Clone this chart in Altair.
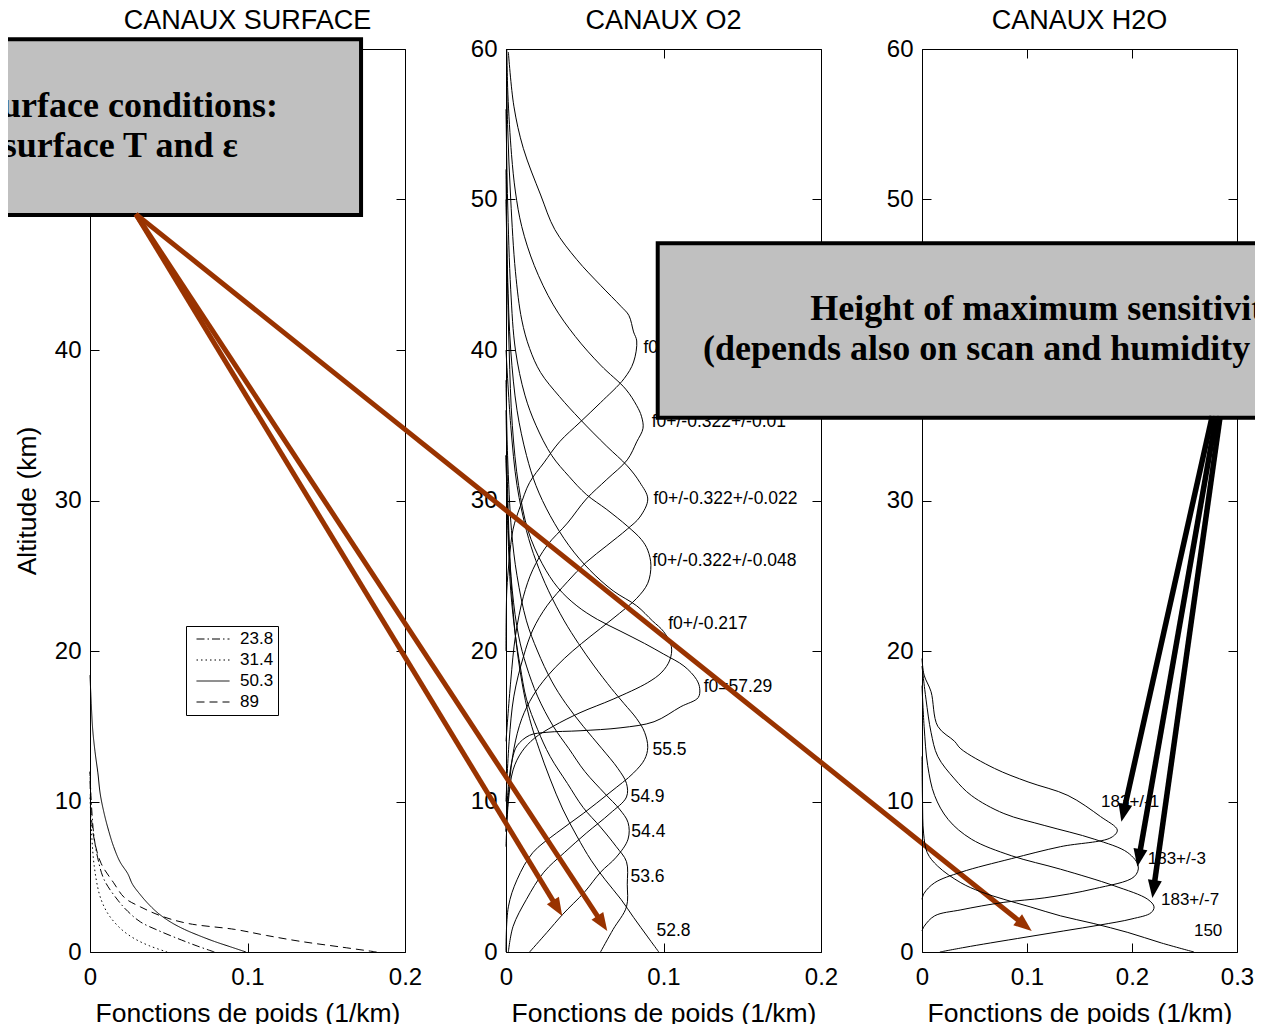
import math
import altair as alt
import pandas as pd

# ---------------- Panel 1 : CANAUX SURFACE (weighting functions, 1/km) ----------------
SURF_CHANNELS = ["23.8", "31.4", "50.3", "89"]
ALT_S238 = [0, 0.4, 0.8, 1.4, 2.0, 2.7, 3.4, 4.8, 6.3, 7.9, 10.4, 12.0]
WF_S238 = [0.079, 0.068, 0.058, 0.044, 0.032, 0.024, 0.018, 0.009, 0.0048, 0.0023, 0.0006, 0.0]
ALT_S314 = [0, 0.4, 0.9, 1.5, 2.3, 3.0, 3.9, 5.7, 7.9, 10.4]
WF_S314 = [0.049, 0.038, 0.028, 0.020, 0.013, 0.009, 0.0058, 0.0027, 0.001, 0.0]
ALT_S503 = [0, 0.35, 0.7, 1.1, 1.5, 2.0, 2.6, 3.2, 3.8, 4.5, 5.2, 6.0, 7.0, 8.0, 9.2, 10.5, 11.9, 13.3, 14.8, 16.5, 18.4]
WF_S503 = [0.099, 0.089, 0.079, 0.069, 0.060, 0.051, 0.043, 0.037, 0.032, 0.027, 0.024, 0.019, 0.015, 0.012, 0.009, 0.0065, 0.005, 0.0032, 0.0017, 0.0008, 0.0]
ALT_S89 = [0, 0.35, 0.7, 1.1, 1.5, 1.9, 2.4, 3.0, 3.6, 4.6, 5.9, 7.4, 9.2, 12.0]
WF_S89 = [0.182, 0.158, 0.134, 0.112, 0.092, 0.062, 0.045, 0.032, 0.022, 0.015, 0.007, 0.0028, 0.0007, 0.0]

# ---------------- Panel 2 : CANAUX O2 ----------------
ALT_O528 = [0, 1.0, 2.3, 3.5, 4.8, 6.1, 7.7, 9.5, 11.5, 13.5, 15.5, 18, 21, 25, 30, 36]
WF_O528 = [0.097, 0.090, 0.081, 0.073, 0.063, 0.054, 0.045, 0.036, 0.028, 0.021, 0.015, 0.010, 0.006, 0.003, 0.0012, 0.0]
ALT_O536 = [0, 1.5, 3.0, 4.5, 6.0, 7.0, 8.3, 9.6, 11.2, 13.0, 14.8, 16.8, 19.0, 21, 24, 28, 33]
WF_O536 = [0.060, 0.068, 0.0765, 0.077, 0.0765, 0.070, 0.060, 0.049, 0.039, 0.028, 0.020, 0.013, 0.009, 0.006, 0.003, 0.0012, 0.0]
ALT_O544 = [0, 1.3, 2.5, 4.0, 5.3, 6.3, 7.5, 8.6, 9.5, 10.5, 12.0, 13.5, 15.0, 17.0, 19.0, 21.0, 24.0, 28.0, 33.0]
WF_O544 = [0.015, 0.026, 0.036, 0.050, 0.060, 0.070, 0.0775, 0.0775, 0.072, 0.063, 0.050, 0.040, 0.030, 0.020, 0.013, 0.008, 0.004, 0.0015, 0.0]
ALT_O549 = [0, 1.7, 3.5, 5.3, 6.6, 7.9, 9.2, 10.3, 11.2, 12.2, 13.5, 15.0, 16.5, 18.0, 20.0, 22.0, 25.0, 28.0, 33.0, 38]
WF_O549 = [0.0015, 0.0045, 0.013, 0.024, 0.037, 0.051, 0.066, 0.0765, 0.0765, 0.071, 0.061, 0.049, 0.038, 0.029, 0.020, 0.013, 0.007, 0.0035, 0.001, 0.0]
ALT_O555 = [0, 3.0, 4.8, 6.6, 7.9, 9.2, 10.6, 11.9, 12.8, 13.6, 14.6, 15.5, 16.5, 17.5, 19.0, 20.5, 22.0, 24.0, 26.0, 28.0, 31.0, 35.0, 40.0]
WF_O555 = [0.0, 0.0015, 0.007, 0.017, 0.032, 0.049, 0.066, 0.081, 0.088, 0.090, 0.088, 0.083, 0.075, 0.067, 0.056, 0.046, 0.037, 0.027, 0.019, 0.013, 0.007, 0.003, 0.0]
ALT_F0 = [8, 11, 12.8, 13.7, 14.4, 14.6, 14.7, 14.9, 15.3, 16.3, 16.9, 17.5, 18.1, 19.0, 19.8, 20.5, 21.3, 22.1, 23.0, 24.2, 25.8, 28, 31, 35, 40, 46, 52]
WF_F0 = [0.0, 0.0015, 0.004, 0.007, 0.015, 0.026, 0.047, 0.073, 0.094, 0.111, 0.122, 0.123, 0.121, 0.113, 0.100, 0.088, 0.073, 0.058, 0.045, 0.033, 0.023, 0.014, 0.008, 0.004, 0.002, 0.0007, 0.0]
ALT_F217 = [7, 10, 12.1, 13.3, 14.2, 15.0, 15.9, 16.8, 17.9, 18.6, 19.4, 20.3, 21.3, 22, 23, 24, 25.4, 27, 29, 31, 33, 36, 40, 45, 50]
WF_F217 = [0.0, 0.0015, 0.0045, 0.010, 0.018, 0.030, 0.047, 0.068, 0.090, 0.099, 0.104, 0.105, 0.100, 0.093, 0.083, 0.068, 0.053, 0.040, 0.028, 0.019, 0.013, 0.007, 0.003, 0.001, 0.0]
ALT_F048 = [8, 11, 13.5, 15.5, 17.0, 18.3, 19.5, 20.5, 21.5, 22.5, 23.5, 24.5, 25.7, 26.7, 27.4, 28.3, 29.4, 30.4, 31.6, 33.0, 35.0, 37.0, 40.0, 44.0, 50.0, 56]
WF_F048 = [0.0, 0.002, 0.005, 0.010, 0.017, 0.026, 0.037, 0.048, 0.060, 0.072, 0.083, 0.090, 0.092, 0.090, 0.086, 0.077, 0.064, 0.051, 0.040, 0.029, 0.019, 0.012, 0.006, 0.003, 0.001, 0.0]
ALT_F022 = [10, 14, 17, 19.6, 21.4, 23.0, 24.6, 25.9, 27.0, 28.1, 28.9, 30.1, 31.2, 32.3, 33.6, 35.4, 36.9, 38.5, 40.1, 42, 45.2, 50, 55, 60]
WF_F022 = [0.0, 0.002, 0.005, 0.011, 0.017, 0.026, 0.039, 0.051, 0.064, 0.077, 0.085, 0.090, 0.085, 0.077, 0.064, 0.047, 0.034, 0.022, 0.015, 0.010, 0.006, 0.003, 0.001, 0.0003]
ALT_F010 = [14, 18, 21, 23.6, 25.4, 27.0, 28.5, 30.1, 31.4, 32.7, 33.9, 34.8, 35.6, 36.3, 37.4, 39.0, 40.9, 43.0, 45.6, 48.2, 50.5, 53, 57, 60]
WF_F010 = [0.0, 0.003, 0.006, 0.011, 0.017, 0.026, 0.039, 0.051, 0.064, 0.077, 0.083, 0.087, 0.086, 0.083, 0.076, 0.060, 0.044, 0.030, 0.018, 0.010, 0.006, 0.0035, 0.0012, 0.0005]
ALT_F0045 = [20, 24, 26, 28.1, 29.6, 31.2, 32.5, 33.9, 35.2, 36.5, 38.1, 39.2, 40.6, 41.2, 42.3, 42.9, 44.3, 46.0, 48.0, 50.3, 53.4, 56.2, 59.8]
WF_F0045 = [0.0, 0.0005, 0.002, 0.0045, 0.009, 0.015, 0.024, 0.034, 0.047, 0.060, 0.075, 0.081, 0.083, 0.081, 0.078, 0.073, 0.060, 0.045, 0.031, 0.022, 0.011, 0.005, 0.0015]

O2_LABEL_TEXT = ["f0+/-0.322+/-0.0045", "f0+/-0.322+/-0.01", "f0+/-0.322+/-0.022",
                 "f0+/-0.322+/-0.048", "f0+/-0.217", "f0=57.29", "55.5", "54.9",
                 "54.4", "53.6", "52.8"]
O2_LABEL_X = [0.0873, 0.0925, 0.0936, 0.093, 0.103, 0.1255, 0.093, 0.079, 0.0796, 0.079, 0.0955]
O2_LABEL_ALT = [40.1, 35.2, 30.1, 25.95, 21.8, 17.6, 13.4, 10.3, 8.0, 5.0, 1.4]

# ---------------- Panel 3 : CANAUX H2O ----------------
ALT_H1 = [3.5, 3.9, 4.6, 5.3, 6.2, 7.0, 7.6, 8.1, 9.0, 10.4, 11.3, 12.2, 13.5, 14.0, 15.0, 17.3, 18.4, 19.5]
WF_H1 = [0.0, 0.002, 0.012, 0.037, 0.085, 0.132, 0.180, 0.186, 0.170, 0.139, 0.101, 0.069, 0.037, 0.031, 0.015, 0.0086, 0.002, 0.0]
ALT_H3 = [1.4, 1.7, 2.4, 2.8, 3.3, 3.6, 4.2, 5.0, 5.7, 6.6, 7.5, 8.4, 9.2, 10.4, 11.5, 13.0, 14.6, 16.8, 19.0]
WF_H3 = [0.0, 0.002, 0.012, 0.037, 0.078, 0.117, 0.164, 0.202, 0.206, 0.196, 0.164, 0.117, 0.078, 0.047, 0.031, 0.015, 0.0086, 0.0038, 0.0]
ALT_H7 = [0, 0.3, 0.6, 1.0, 1.4, 1.8, 2.2, 2.6, 3.0, 3.5, 4.4, 5.5, 6.4, 7.5, 8.8, 10.4, 12.4, 15.0, 17.7]
WF_H7 = [0.017, 0.040, 0.065, 0.100, 0.135, 0.170, 0.200, 0.218, 0.221, 0.215, 0.183, 0.132, 0.085, 0.047, 0.025, 0.012, 0.0054, 0.002, 0.0]
ALT_H150 = [0, 0.6, 1.3, 1.9, 2.4, 3.0, 3.5, 4.0, 4.6, 5.7, 6.6, 7.9, 10, 13]
WF_H150 = [0.259, 0.228, 0.196, 0.163, 0.132, 0.103, 0.078, 0.056, 0.037, 0.015, 0.005, 0.0015, 0.0005, 0.0]

H2O_LABEL_TEXT = ["183+/-1", "183+/-3", "183+/-7", "150"]
H2O_LABEL_X = [0.1705, 0.215, 0.2276, 0.259]
H2O_LABEL_ALT = [10.0, 6.2, 3.45, 1.4]

# ---------------- annotations (data coordinates of the panel they sit in) ----------------
BOX1_X = [-0.09, 0.1721]          # panel 1
BOX1_ALT = [48.97, 60.65]
BOX1_LINES = ["Surface conditions:", "surface T and \u03b5"]
BOX1_LINE_X = [-0.0692, -0.0554]
BOX1_LINE_ALT = [55.5, 52.8]

BOX2_X = [-0.2517, 0.474]         # panel 3
BOX2_ALT = [35.5, 47.1]
BOX2_LINES = ["Height of maximum sensitivity", "(depends also on scan and humidity profile)"]
BOX2_LINE_X = [-0.1064, -0.2085]
BOX2_LINE_ALT = [42.02, 39.35]

BROWN_START_X = [-0.2350, -0.2350, -0.2350]   # panel 2
BROWN_START_ALT = [49.03, 49.03, 49.03]
BROWN_TIP_X = [0.0357, 0.0643, 0.3338]
BROWN_TIP_ALT = [2.40, 1.40, 1.40]

BLACK_START_X = [0.2764, 0.2802, 0.2840]      # panel 3
BLACK_START_ALT = [35.6, 35.6, 35.6]
BLACK_TIP_X = [0.1899, 0.2051, 0.2194]
BLACK_TIP_ALT = [8.65, 5.66, 3.59]

TITLES = ["CANAUX SURFACE", "CANAUX O2", "CANAUX H2O"]
XLABEL = "Fonctions de poids (1/km)"
YLABEL = "Altitude (km)"
X_TICKS_12 = [0, 0.1, 0.2]
X_TICKS_3 = [0, 0.1, 0.2, 0.3]
Y_TICKS = [0, 10, 20, 30, 40, 50, 60]

# ---------------- layout / style ----------------
PW, PH = 315, 903
SANS = "Liberation Sans"
SERIF = "Liberation Serif"
BROWN = "#993300"
HEAD = "M0,0 L0.78,2 L-0.78,2 Z"
INWARD = {"expr": "-9"}
LABEL_EXPR = "toString(datum.value)"


def curves_df(names, alts, wfs):
    rows = []
    for n, a_list, w_list in zip(names, alts, wfs):
        for a, w in zip(a_list, w_list):
            rows.append({"ch": n, "alt": a, "wf": w})
    return pd.DataFrame(rows)


def xs(dom):
    return alt.Scale(domain=dom, nice=False, zero=False)


YS = alt.Scale(domain=[0, 60], nice=False, zero=False)


def frame_layer(dom, ticks):
    return alt.Chart(pd.DataFrame({"v": [0.0], "a": [0.0]})).mark_point(opacity=0).encode(
        x=alt.X("v:Q", scale=xs(dom), axis=alt.Axis(orient="top", values=ticks, labels=False, title=None,
                                                   tickSize=INWARD, domain=False, grid=False,
                                                   minExtent=0, maxExtent=0)),
        y=alt.Y("a:Q", scale=YS, axis=alt.Axis(orient="right", values=Y_TICKS, labels=False, title=None,
                                              tickSize=INWARD, domain=False, grid=False,
                                              minExtent=0, maxExtent=0)),
    )


def x_axis(ticks):
    return alt.Axis(orient="bottom", values=ticks, labelExpr=LABEL_EXPR, title=XLABEL, tickSize=INWARD,
                    labelPadding=22, titlePadding=11, domain=False, grid=False,
                    labelFlush=False, labelOverlap=False, minExtent=0)


def y_axis(title):
    return alt.Axis(orient="left", values=Y_TICKS, labelExpr=LABEL_EXPR, title=title, tickSize=INWARD,
                    labelPadding=18, titlePadding=13, domain=False, grid=False,
                    labelFlush=False, labelOverlap=False, minExtent=0)


def text_layer(texts, xv, yv, dom, font, size, weight="normal", baseline="middle"):
    df = pd.DataFrame({"t": texts, "x": xv, "y": yv})
    return alt.Chart(df).mark_text(align="left", baseline=baseline, font=font, fontSize=size,
                                   fontWeight=weight, color="black").encode(
        x=alt.X("x:Q", scale=xs(dom), axis=None),
        y=alt.Y("y:Q", scale=YS, axis=None),
        text="t:N",
    )


def box_layer(bx, by, dom):
    df = pd.DataFrame({"x": [bx[0]], "x2": [bx[1]], "y": [by[0]], "y2": [by[1]]})
    return alt.Chart(df).mark_rect(fill="#c0c0c0", stroke="black", strokeWidth=4).encode(
        x=alt.X("x:Q", scale=xs(dom), axis=None), x2="x2:Q",
        y=alt.Y("y:Q", scale=YS, axis=None), y2="y2:Q",
    )


def arrow_layers(sx, sy, tx, ty, dom, color, width):
    pxx = PW / (dom[1] - dom[0])
    pxy = PH / 60.0
    shafts, heads = [], []
    for x0, y0, x1, y1 in zip(sx, sy, tx, ty):
        dxp = (x1 - x0) * pxx
        dyp = -(y1 - y0) * pxy
        L = math.hypot(dxp, dyp)
        ux, uy = dxp / L, dyp / L
        back = 10.0
        shafts.append({"x": x0, "y": y0, "x2": x1 - ux * back / pxx, "y2": y1 + uy * back / pxy})
        heads.append({"x": x1, "y": y1, "ang": math.degrees(math.atan2(dxp, -dyp)) % 360})
    shaft = alt.Chart(pd.DataFrame(shafts)).mark_rule(color=color, strokeWidth=width, strokeCap="butt").encode(
        x=alt.X("x:Q", scale=xs(dom), axis=None), x2="x2:Q",
        y=alt.Y("y:Q", scale=YS, axis=None), y2="y2:Q",
    )
    head = alt.Chart(pd.DataFrame(heads)).mark_point(shape=HEAD, filled=True, size=324, color=color,
                                                     opacity=1, strokeWidth=0).encode(
        x=alt.X("x:Q", scale=xs(dom), axis=None),
        y=alt.Y("y:Q", scale=YS, axis=None),
        angle=alt.Angle("ang:Q", scale=None),
    )
    return shaft, head


def title(txt):
    return alt.TitleParams(txt, font=SANS, fontSize=27, fontWeight="normal", color="black",
                           anchor="middle", frame="group", baseline="top", offset=2)


# ---------- panel 1 ----------
D1 = [0, 0.2]
df1 = curves_df(SURF_CHANNELS, [ALT_S238, ALT_S314, ALT_S503, ALT_S89], [WF_S238, WF_S314, WF_S503, WF_S89])
curves1 = alt.Chart(df1).mark_line(color="black", strokeWidth=1, interpolate="catmull-rom").encode(
    x=alt.X("wf:Q", scale=xs(D1), axis=x_axis(X_TICKS_12)),
    y=alt.Y("alt:Q", scale=YS, axis=y_axis(YLABEL)),
    order=alt.Order("alt:Q"),
    strokeDash=alt.StrokeDash(
        "ch:N",
        scale=alt.Scale(domain=SURF_CHANNELS, range=[[8, 3, 1.5, 3], [1.5, 3], [1, 0], [8, 5]]),
        legend=alt.Legend(orient="none", legendX=96, legendY=577, title=None, padding=4,
                          strokeColor="black", fillColor="white", symbolType="stroke",
                          symbolSize=1089, symbolStrokeWidth=1, symbolStrokeColor="black",
                          labelFont=SANS, labelFontSize=17, labelColor="black", labelOffset=10,
                          rowPadding=3, symbolOffset=6, clipHeight=18),
    ),
)
p1 = alt.layer(
    frame_layer(D1, X_TICKS_12), curves1,
    box_layer(BOX1_X, BOX1_ALT, D1),
    text_layer(BOX1_LINES, BOX1_LINE_X, BOX1_LINE_ALT, D1, SERIF, 36, "bold", "alphabetic"),
).resolve_axis(x="independent", y="independent").properties(width=PW, height=PH, title=title(TITLES[0]))

# ---------- panel 2 ----------
D2 = [0, 0.2]
o2_names = ["52.8", "53.6", "54.4", "54.9", "55.5", "f0", "217", "048", "022", "010", "0045"]
df2 = curves_df(o2_names,
                [ALT_O528, ALT_O536, ALT_O544, ALT_O549, ALT_O555, ALT_F0, ALT_F217, ALT_F048, ALT_F022, ALT_F010, ALT_F0045],
                [WF_O528, WF_O536, WF_O544, WF_O549, WF_O555, WF_F0, WF_F217, WF_F048, WF_F022, WF_F010, WF_F0045])
curves2 = alt.Chart(df2).mark_line(color="black", strokeWidth=1, interpolate="catmull-rom").encode(
    x=alt.X("wf:Q", scale=xs(D2), axis=x_axis(X_TICKS_12)),
    y=alt.Y("alt:Q", scale=YS, axis=y_axis(None)),
    order=alt.Order("alt:Q"),
    detail="ch:N",
)
bshaft, bhead = arrow_layers(BROWN_START_X, BROWN_START_ALT, BROWN_TIP_X, BROWN_TIP_ALT, D2, BROWN, 5)
p2 = alt.layer(
    frame_layer(D2, X_TICKS_12), curves2,
    text_layer(O2_LABEL_TEXT, O2_LABEL_X, O2_LABEL_ALT, D2, SANS, 17.5),
    bshaft, bhead,
).resolve_axis(x="independent", y="independent").properties(width=PW, height=PH, title=title(TITLES[1]))

# ---------- panel 3 ----------
D3 = [0, 0.3]
df3 = curves_df(["183+/-1", "183+/-3", "183+/-7", "150"],
                [ALT_H1, ALT_H3, ALT_H7, ALT_H150], [WF_H1, WF_H3, WF_H7, WF_H150])
curves3 = alt.Chart(df3).mark_line(color="black", strokeWidth=1, interpolate="catmull-rom").encode(
    x=alt.X("wf:Q", scale=xs(D3), axis=x_axis(X_TICKS_3)),
    y=alt.Y("alt:Q", scale=YS, axis=y_axis(None)),
    order=alt.Order("alt:Q"),
    detail="ch:N",
)
kshaft, khead = arrow_layers(BLACK_START_X, BLACK_START_ALT, BLACK_TIP_X, BLACK_TIP_ALT, D3, "black", 5.5)
p3 = alt.layer(
    frame_layer(D3, X_TICKS_3), curves3,
    text_layer(H2O_LABEL_TEXT, H2O_LABEL_X, H2O_LABEL_ALT, D3, SANS, 17),
    box_layer(BOX2_X, BOX2_ALT, D3),
    text_layer(BOX2_LINES, BOX2_LINE_X, BOX2_LINE_ALT, D3, SERIF, 36, "bold", "alphabetic"),
    kshaft, khead,
).resolve_axis(x="independent", y="independent").properties(width=PW, height=PH, title=title(TITLES[2]))

chart = alt.hconcat(p1, p2, p3, spacing=101, bounds="flush").resolve_legend(
    strokeDash="independent"
).properties(
    padding={"left": -63, "top": -2, "right": -168, "bottom": 0}
).configure_view(
    stroke="black", strokeWidth=1
).configure_axis(
    labelFont=SANS, labelFontSize=24, labelColor="black",
    titleFont=SANS, titleFontSize=26.5, titleFontWeight="normal", titleColor="black",
    tickColor="black", tickWidth=1,
)

chart.save("out.html", embed_options={"renderer": "svg", "actions": False})
